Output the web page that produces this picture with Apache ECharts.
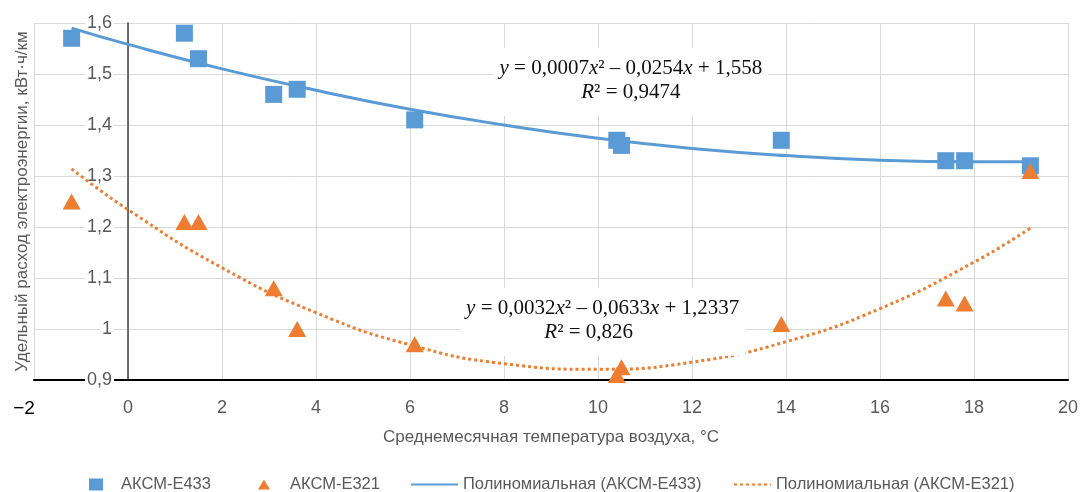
<!DOCTYPE html>
<html><head><meta charset="utf-8">
<script src="https://cdn.jsdelivr.net/npm/echarts@6/dist/echarts.min.js"></script>
<style>html,body{margin:0;padding:0;background:#fff}#c{width:1080px;height:492px}</style>
</head><body><div id="c"></div>
<script>
const temps = [-1.2, 1.2, 1.5, 3.1, 3.6, 6.1, 10.4, 10.5, 13.9, 17.4, 17.8, 19.2];
const e433 = [1.57, 1.58, 1.53, 1.46, 1.47, 1.41, 1.37, 1.36, 1.37, 1.33, 1.33, 1.32];
const e321 = [1.25, 1.21, 1.21, 1.08, 1.00, 0.97, 0.91, 0.925, 1.01, 1.06, 1.05, 1.31];
const trendX = [-1.2, 0, 2, 4, 6, 8, 10, 12, 14, 16, 18, 19.2];
const trend433 = [1.590, 1.558, 1.510, 1.468, 1.431, 1.400, 1.374, 1.354, 1.340, 1.331, 1.328, 1.328];
const trend321 = [1.314, 1.234, 1.120, 1.032, 0.969, 0.932, 0.921, 0.935, 0.975, 1.040, 1.131, 1.198];
const seriesNames = ['АКСМ-Е433', 'АКСМ-Е321', 'Полиномиальная (АКСМ-Е433)', 'Полиномиальная (АКСМ-Е321)'];
const eq433 = '{i|y} = 0,0007{i|x}² – 0,0254{i|x} + 1,558\n{i|R}² = 0,9474';
const eq321 = '{i|y} = 0,0032{i|x}² – 0,0633{i|x} + 1,2337\n{i|R}² = 0,826{sp|}';
const eqPos433 = [10.7, 1.485];
const eqPos321 = [10.1, 1.014];
const xName = 'Среднемесячная температура воздуха, °С';
const yName = 'Удельный расход электроэнергии, кВт·ч/км';

const SANS = "'Liberation Sans', Arial, sans-serif";
const BLUE = '#5B9BD5', ORANGE = '#ED7D31', GRAY = '#595959';
const zip = (xs, ys) => xs.map((x, i) => [x, ys[i]]);
const legendLayout = [
  {left: 84, w: 14, h: 12, pad: 13, icon: 'path://M0,0h14v12h-14z'},
  {left: 253, w: 12, h: 10, pad: 15, icon: 'path://M6,0L12,10L0,10z'},
  {left: 405, w: 47, h: 12, pad: 0, icon: null},
  {left: 728, w: 37, h: 12, pad: 0, icon: null}
];

const chart = echarts.init(document.getElementById('c'), null, {renderer: 'canvas'});
chart.setOption({
  animation: false,
  backgroundColor: '#fff',
  grid: {left: 34, right: 12, top: 23, bottom: 112, outerBoundsMode: 'none', containLabel: false},
  xAxis: {
    type: 'value', min: -2, max: 20, interval: 2,
    name: xName, nameLocation: 'middle', nameGap: 49,
    nameTextStyle: {color: GRAY, fontSize: 17, fontFamily: SANS},
    axisLine: {onZero: false, lineStyle: {color: '#000', width: 2}},
    axisTick: {show: false},
    splitLine: {lineStyle: {color: '#d9d9d9', width: 1}},
    axisLabel: {
      color: GRAY, fontSize: 18, fontFamily: SANS, margin: 19,
      formatter: v => v < 0 ? '{neg|−' + Math.abs(v) + '}' : String(v),
      rich: {neg: {color: '#000', fontSize: 19, fontFamily: SANS, padding: [0, 20, 0, 0]}}
    }
  },
  yAxis: {
    type: 'value', min: 0.9, max: 1.6, interval: 0.1,
    offset: -94,
    name: yName, nameLocation: 'middle', nameGap: 97,
    nameTextStyle: {color: GRAY, fontSize: 17, fontFamily: SANS},
    axisLine: {onZero: false, lineStyle: {color: '#404040', width: 1.5}},
    axisTick: {show: false},
    splitLine: {lineStyle: {color: '#d9d9d9', width: 1}},
    axisLabel: {
      color: GRAY, fontSize: 18, fontFamily: SANS, margin: 14,
      backgroundColor: '#fff', padding: [2, 2, 0, 2],
      formatter: v => String(+v.toFixed(1)).replace('.', ',')
    }
  },
  legend: seriesNames.map((n, i) => {
    const L = legendLayout[i];
    return {
      left: L.left, top: 471, itemWidth: L.w, itemHeight: L.h,
      textStyle: {color: GRAY, fontSize: 16.5, fontFamily: SANS, padding: [0, 0, 0, L.pad]},
      data: [L.icon ? {name: n, icon: L.icon} : {name: n, itemStyle: {opacity: 0}}]
    };
  }),
  series: [
    {name: seriesNames[2], type: 'line', smooth: true, symbol: 'none', z: 2,
     lineStyle: {color: BLUE, width: 3}, itemStyle: {color: BLUE},
     data: zip(trendX, trend433)},
    {name: seriesNames[3], type: 'line', smooth: true, symbol: 'none', z: 2,
     lineStyle: {color: ORANGE, width: 3, type: [3, 3]}, itemStyle: {color: ORANGE},
     data: zip(trendX, trend321)},
    {name: seriesNames[0], type: 'scatter', symbol: 'rect', symbolSize: 17, z: 3,
     itemStyle: {color: BLUE, opacity: 1}, data: zip(temps, e433)},
    {name: seriesNames[1], type: 'scatter', symbol: 'triangle', symbolSize: [18, 16], z: 4,
     itemStyle: {color: ORANGE, opacity: 1}, data: zip(temps, e321)}
  ]
});

function eqGraphic(text, pos) {
  const p = chart.convertToPixel({gridIndex: 0}, pos);
  return {
    type: 'text', x: p[0], y: p[1], z: 10,
    style: {
      text: text, align: 'center', verticalAlign: 'middle',
      font: "21px 'Liberation Serif', 'Times New Roman', serif",
      fill: '#111', lineHeight: 24, backgroundColor: '#fff', padding: [9, 6, 11, 6],
      rich: {
        i: {fontStyle: 'italic', fontSize: 21, fontFamily: "'Liberation Serif', serif", fill: '#111'},
        sp: {width: 28}
      }
    }
  };
}
chart.setOption({graphic: [eqGraphic(eq433, eqPos433), eqGraphic(eq321, eqPos321)]});
</script></body></html>
